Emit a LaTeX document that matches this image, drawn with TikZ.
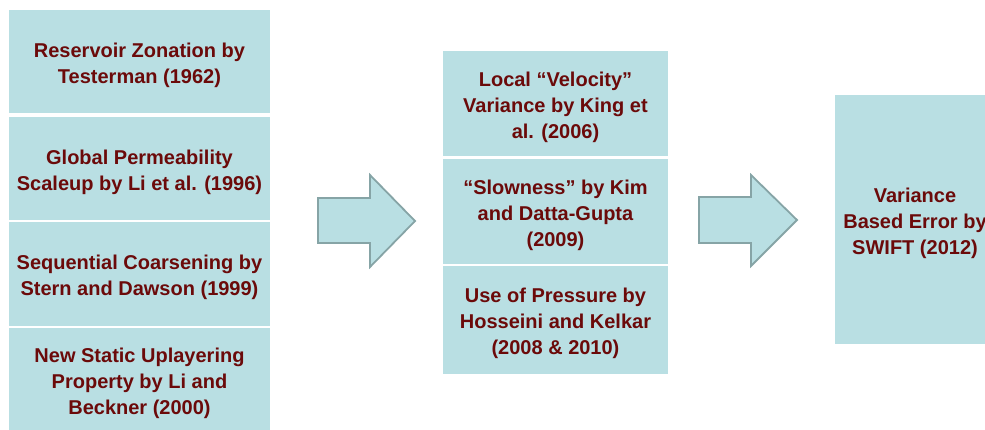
\documentclass[tikz,border=0pt]{standalone}
\usepackage{fontspec}
\setmainfont{Liberation Sans}
\definecolor{boxfill}{HTML}{B9DFE3}
\definecolor{txtred}{HTML}{6B0A0A}
\definecolor{arrowline}{HTML}{86A4A6}
\newcommand{\topstrut}{\rule{0pt}{21.5pt}}
\tikzset{
  cell/.style={rectangle, fill=boxfill, draw=none, inner sep=0pt, outer sep=0pt,
    align=center, text=txtred, font=\fontsize{20}{26}\selectfont\bfseries},
  blockarrow/.style={fill=boxfill, draw=arrowline, line width=1.8pt, line join=miter}
}
\begin{document}
\begin{tikzpicture}[x=1pt,y=-1pt]
\useasboundingbox (0,0) rectangle (985,429);
\begin{scope}
\clip (0,0) rectangle (985,429);
% left column
\node[cell, minimum width=261pt, minimum height=103pt] (l1) at (139.5,61.5) {\topstrut Reservoir Zonation by\\Testerman (1962)};
\node[cell, minimum width=261pt, minimum height=103pt] (l2) at (139.5,168.5) {\topstrut Global Permeability\\Scaleup by Li et al. (1996)};
\node[cell, minimum width=261pt, minimum height=104pt] (l3) at (139.5,274) {\topstrut Sequential Coarsening by\\Stern and Dawson (1999)};
\node[cell, minimum width=261pt, minimum height=104pt] (l4) at (139.5,380) {\topstrut New Static Uplayering\\Property by Li and\\Beckner (2000)};
% middle column
\node[cell, minimum width=225pt, minimum height=105pt] (m1) at (555.5,103.5) {\topstrut Local “Velocity”\\Variance by King et\\al. (2006)};
\node[cell, minimum width=225pt, minimum height=105pt] (m2) at (555.5,211.5) {\topstrut “Slowness” by Kim\\and Datta-Gupta\\(2009)};
\node[cell, minimum width=225pt, minimum height=108pt] (m3) at (555.5,320) {\topstrut Use of Pressure by\\Hosseini and Kelkar\\(2008 \& 2010)};
% right box
\node[cell, minimum width=160pt, minimum height=249pt] (r1) at (915,219.5) {\topstrut Variance\\Based Error by\\SWIFT (2012)};
\end{scope}
% block arrows
\draw[blockarrow] (318,198) -- (370,198) -- (370,175) -- (415,221) -- (370,267) -- (370,243) -- (318,243) -- cycle;
\draw[blockarrow] (699,197) -- (751,197) -- (751,175) -- (797,220) -- (751,266) -- (751,243) -- (699,243) -- cycle;
\end{tikzpicture}
\end{document}
